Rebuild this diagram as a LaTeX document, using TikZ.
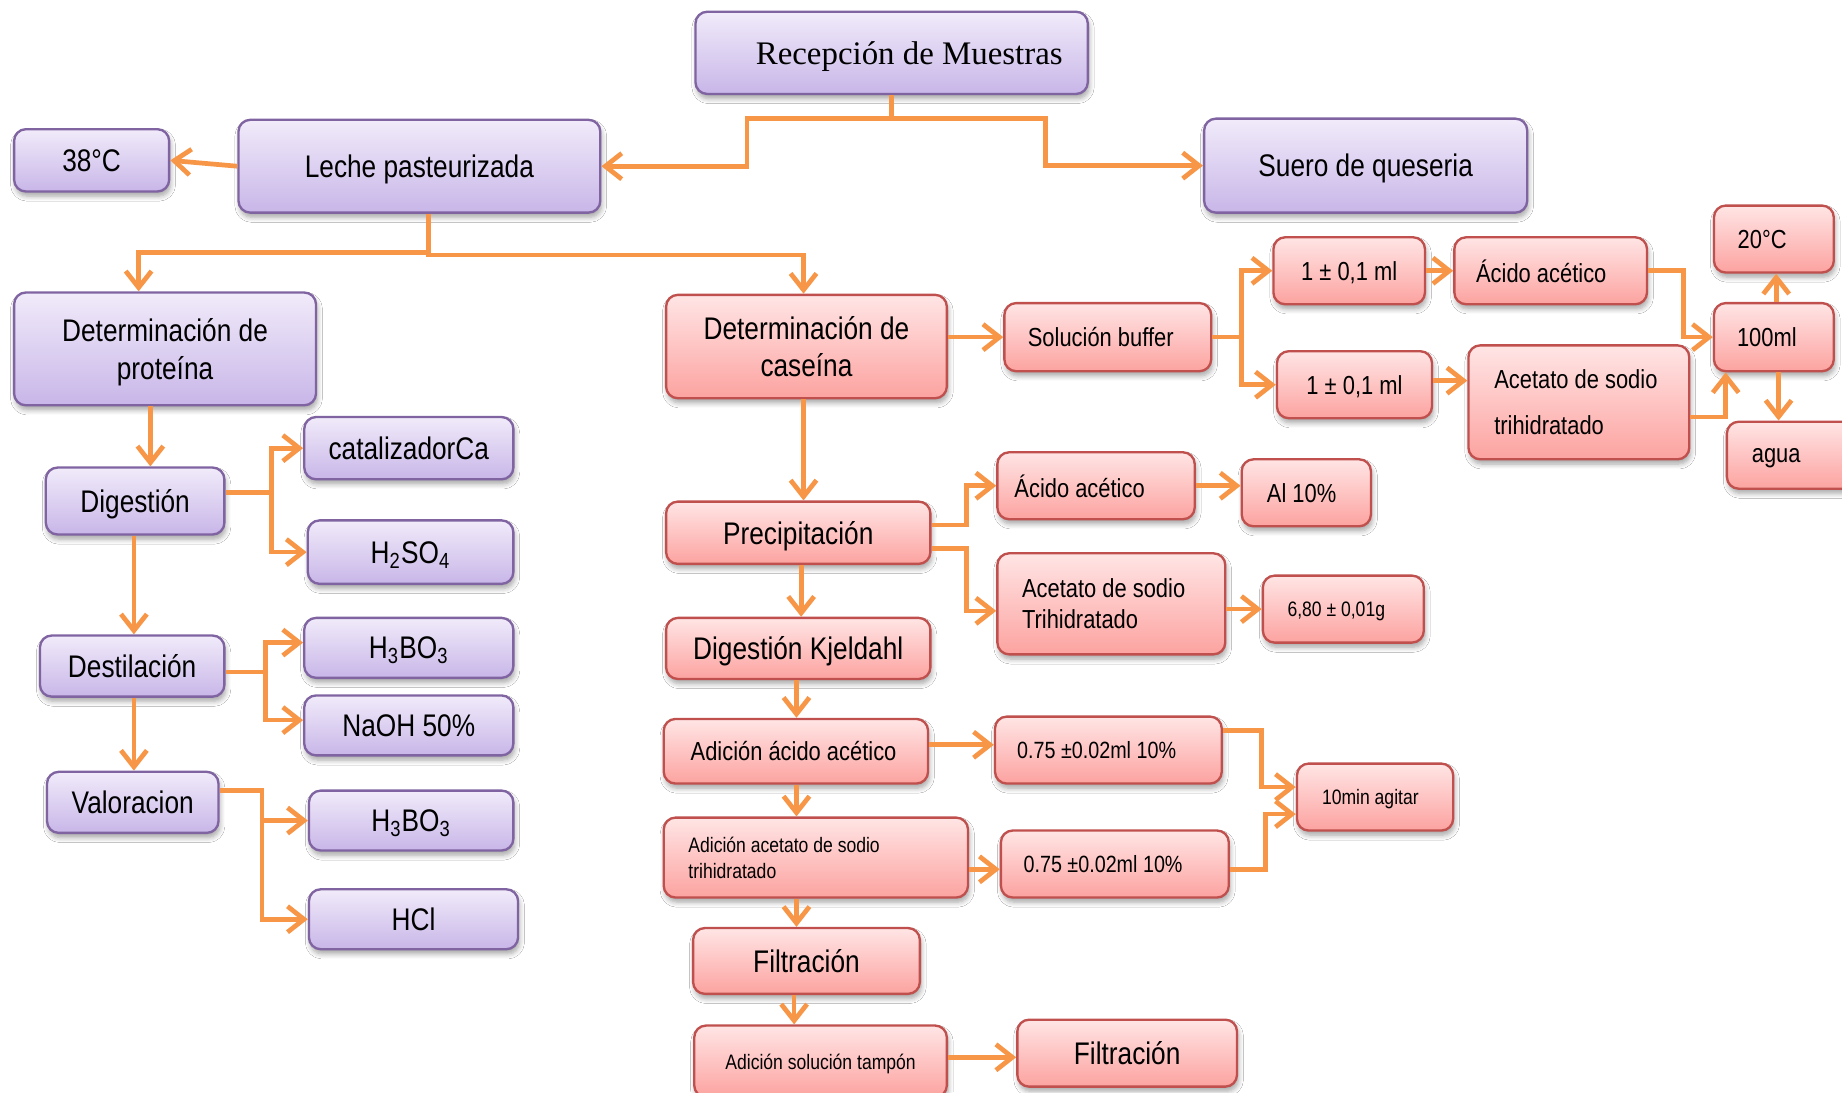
\documentclass[tikz,border=0pt]{standalone}
\usepackage{fontspec}
\setmainfont{Liberation Sans}[FakeStretch=0.84]
\newfontfamily\titlefont{Liberation Serif}
\usetikzlibrary{arrows.meta,shadows.blur}

\definecolor{ppTop}{RGB}{241,235,250}
\definecolor{ppBot}{RGB}{200,182,232}
\definecolor{ppLine}{RGB}{128,100,162}
\definecolor{rdTop}{RGB}{255,229,229}
\definecolor{rdBot}{RGB}{252,163,160}
\definecolor{rdLine}{RGB}{192,80,77}
\definecolor{flowOr}{RGB}{247,150,70}

% box from corner (x1,y1) to corner (x2,y2), y measured downwards
\newcommand\bx[8][]{%
  \node[#2, minimum width={(#6-#4)*0.5pt}, minimum height={(#7-#5)*0.5pt}, #1]
    (#3) at ({(#4+#6)/2},{(#5+#7)/2}) {#8};}

\tikzset{
  box/.style={rounded corners=5pt, line width=1pt, inner sep=1pt, align=center, text depth=0pt,
    blur shadow={shadow xshift=0.6pt, shadow yshift=-2pt, shadow blur steps=6, shadow opacity=35}},
  pbox/.style={box, draw=ppLine, top color=ppTop, bottom color=ppBot},
  rbox/.style={box, draw=rdLine, top color=rdTop, bottom color=rdBot},
  leftbox/.style={align=flush left, text depth={}},
  fA/.style={font=\fontsize{13.3}{16}\selectfont},
  fB/.style={font=\fontsize{11.1}{13.3}\selectfont},
  fC/.style={font=\fontsize{10}{12}\selectfont},
  fD/.style={font=\fontsize{8.9}{11}\selectfont},
  arr/.style={draw=flowOr, line width=2pt, line join=miter,
    -{Straight Barb[length=7pt,width=11pt]}},
}

\begin{document}
\begin{tikzpicture}[x=0.5pt, y=-0.5pt]
\fill[white] (0,0) rectangle (1568,930);
\useasboundingbox (0,0) rectangle (1568,930);

% ---------- purple column: reception and protein ----------
\bx[font=\titlefont\fontsize{14}{17}\selectfont]{pbox}{rec}{592}{10}{926}{80}{\hspace*{15pt}Recepción de Muestras}
\bx[fA]{pbox}{t38}{12}{110}{144}{163}{38°C}
\bx[fA]{pbox}{leche}{203}{102}{511}{181}{Leche pasteurizada}
\bx[fA]{pbox}{suero}{1025}{101}{1300}{181}{Suero de queseria}
\bx[fA]{pbox}{detprot}{12}{249}{269}{345}{Determinación de\\proteína}
\bx[fA]{pbox}{dig}{39}{398}{191}{455}{Digestión}
\bx[fA]{pbox}{cat}{259}{355}{437}{408}{catalizadorCa}
\bx[fA]{pbox}{hso}{262}{443}{437}{497}{H\textsubscript{2}SO\textsubscript{4}}
\bx[fA]{pbox}{dest}{34}{541}{191}{593}{Destilación}
\bx[fA]{pbox}{hboa}{259}{526}{437}{577}{H\textsubscript{3}BO\textsubscript{3}}
\bx[fA]{pbox}{naoh}{259}{592}{437}{643}{NaOH 50\%}
\bx[fA]{pbox}{val}{40}{657}{186}{709}{Valoracion}
\bx[fA]{pbox}{hbob}{263}{673}{437}{724}{H\textsubscript{3}BO\textsubscript{3}}
\bx[fA]{pbox}{hcl}{263}{757}{441}{808}{HCl}

% ---------- red column: casein ----------
\bx[fA]{rbox}{detcas}{567}{251}{806}{339}{Determinación de\\caseína}
\bx[fB]{rbox}{buf}{855}{258}{1031}{316}{Solución buffer\hspace*{6pt}}
\bx[fB]{rbox}{ma}{1084}{202}{1213}{259}{1 ± 0,1 ml}
\bx[fB]{rbox}{aaca}{1238}{202}{1402}{259}{Ácido acético\hspace*{8pt}}
\bx[fB]{rbox}{t20}{1459}{175}{1561}{232}{20°C\hspace*{10pt}}
\bx[fB]{rbox}{ml100}{1459}{258}{1561}{316}{100ml\hspace*{6pt}}
\bx[fB]{rbox}{mb}{1087}{299}{1219}{356}{1 ± 0,1 ml}
\bx[fB,leftbox,inner xsep=11pt,text width=72pt]{rbox}{aceta}{1250}{294}{1438}{391}{Acetato de sodio\\[6pt]trihidratado}
\bx[fB]{rbox}{agua}{1470}{359}{1580}{416}{agua\hspace*{13pt}}

\bx[fA]{rbox}{prec}{567}{427}{792}{480}{Precipitación}
\bx[fB]{rbox}{aacb}{849}{385}{1017}{442}{Ácido acético\hspace*{14pt}}
\bx[fB]{rbox}{al}{1057}{391}{1167}{448}{Al 10\%\hspace*{4pt}}
\bx[fB,leftbox,inner xsep=10.5pt,text width=76pt]{rbox}{acetb}{849}{471}{1043}{557}{Acetato de sodio\\Trihidratado}
\bx[fD]{rbox}{gr}{1075}{490}{1212}{547}{6,80 ± 0,01g\hspace*{6pt}}
\bx[fA]{rbox}{kj}{567}{526}{792}{578}{Digestión Kjeldahl}
\bx[fB]{rbox}{adaa}{565}{612}{790}{667}{Adición ácido acético\hspace*{2pt}}
\bx[fC]{rbox}{va}{847}{610}{1040}{667}{0.75 ±0.02ml 10\%\hspace*{10pt}}
\bx[fD]{rbox}{agit}{1104}{650}{1237}{707}{10min agitar\hspace*{4pt}}
\bx[fD,leftbox,inner xsep=10.5pt,text width=108.5pt]{rbox}{adas}{565}{696}{824}{764}{Adición acetato de sodio\\trihidratado}
\bx[fC]{rbox}{vb}{852}{707}{1046}{764}{0.75 ±0.02ml 10\%\hspace*{10pt}}
\bx[fA]{rbox}{filta}{590}{790}{783}{846}{Filtración}
\bx[fD]{rbox}{adst}{591}{873}{806}{934}{Adición solución tampón}
\bx[fA]{rbox}{filtb}{866}{868}{1053}{925}{Filtración}

% ---------- connectors ----------
\draw[arr] (rec.south) |- (636,101) |- (leche.east);
\draw[arr] (rec.south) |- (890,101) |- (suero.west);
\draw[arr] (leche.west) -- (t38.east);
\draw[arr] (leche.south -| 365,0) |- (118,215) -- (detprot.north -| 118,0);
\draw[arr] (leche.south -| 365,0) |- (684,217) -- (detcas.north -| 684,0);

\draw[arr] (detprot.south -| 128,0) -- (dig.north -| 128,0);
\draw[arr] (dig.east |- 0,419) -- ++(39,0) |- (cat.west);
\draw[arr] (dig.east |- 0,419) -- ++(39,0) |- (hso.west);
\draw[arr] (dig.south -| 114,0) -- (dest.north -| 114,0);
\draw[arr] (dest.east |- 0,572) -- ++(34,0) |- (hboa.west |- 0,547);
\draw[arr] (dest.east |- 0,572) -- ++(34,0) |- (naoh.west |- 0,613);
\draw[arr] (dest.south -| 114,0) -- (val.north -| 114,0);
\draw[arr] (val.east |- 0,673) -- ++(36,0) |- (hbob.west);
\draw[arr] (val.east |- 0,673) -- ++(36,0) |- (hcl.west);

\draw[arr] (detcas.east |- buf.west) -- (buf.west);
\draw[arr] (detcas.south -| 684,0) -- (prec.north -| 684,0);
\draw[arr] (buf.east) -- ++(25,0) |- (ma.west);
\draw[arr] (buf.east) -- ++(25,0) |- (mb.west);
\draw[arr] (ma.east) -- (aaca.west);
\draw[arr] (mb.east |- 0,324) -- (aceta.west |- 0,324);
\draw[arr] (aaca.east) -- ++(30,0) |- (ml100.west);
\draw[arr] (aceta.east |- 0,355) -- (1469,355) -- (ml100.south -| 1469,0);
\draw[arr] (ml100.north -| 1512,0) -- (t20.south -| 1512,0);
\draw[arr] (ml100.south -| 1514,0) -- (agua.north -| 1514,0);

\draw[arr] (prec.east |- 0,447) -- ++(30,0) |- (aacb.west);
\draw[arr] (prec.east |- 0,467) -- ++(30,0) |- (acetb.west |- 0,520);
\draw[arr] (aacb.east) -- (aacb.east -| al.west);
\draw[arr] (acetb.east |- gr.west) -- (gr.west);
\draw[arr] (prec.south -| 682,0) -- (kj.north -| 682,0);
\draw[arr] (kj.south -| 678,0) -- (adaa.north -| 678,0);
\draw[arr] (adaa.east |- 0,634) -- (va.west |- 0,634);
\draw[arr] (va.east |- 0,622) -- ++(33,0) |- (agit.west |- 0,670);
\draw[arr] (vb.east |- 0,740) -- ++(30,0) |- (agit.west |- 0,693);
\draw[arr] (adaa.south -| 678,0) -- (adas.north -| 678,0);
\draw[arr] (adas.east |- 0,740) -- (vb.west |- 0,740);
\draw[arr] (adas.south -| 678,0) -- (filta.north -| 678,0);
\draw[arr] (filta.south -| 676,0) -- (adst.north -| 676,0);
\draw[arr] (adst.east |- 0,900) -- (filtb.west |- 0,900);
\end{tikzpicture}
\end{document}
